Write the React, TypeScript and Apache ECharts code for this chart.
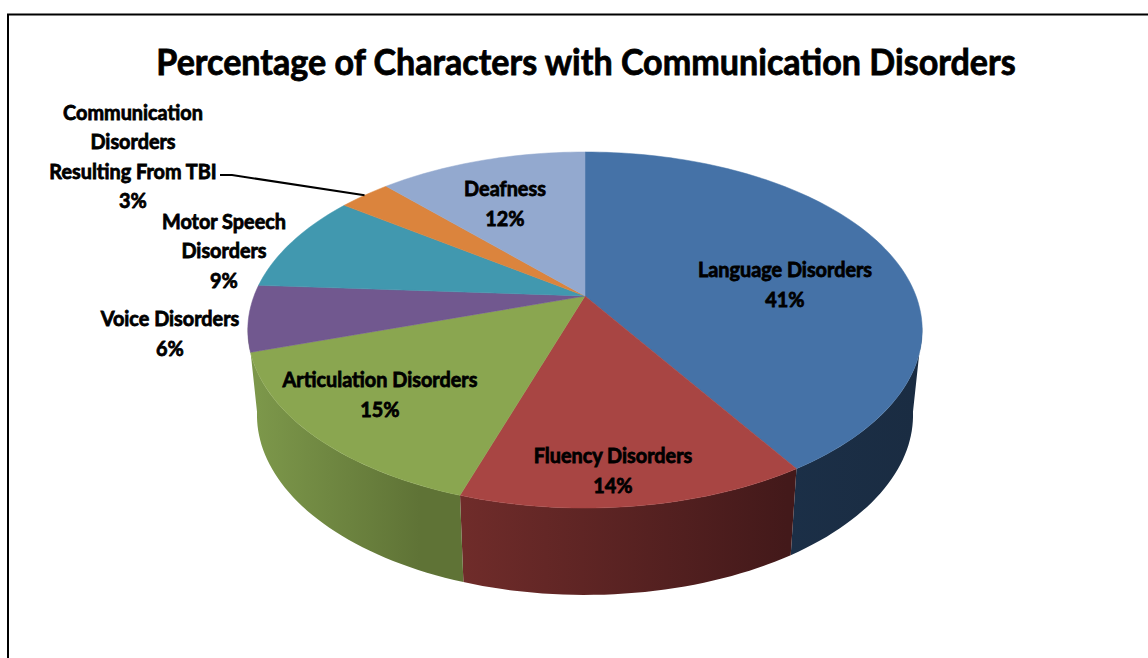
import React, { useEffect, useRef } from "react";
import * as echarts from "echarts";

const chartTitle = "Percentage of Characters with Communication Disorders";
const categories = [
  "Language Disorders",
  "Fluency Disorders",
  "Articulation Disorders",
  "Voice Disorders",
  "Motor Speech\nDisorders",
  "Communication\nDisorders\nResulting From TBI",
  "Deafness",
];
const percentages = [41, 14, 15, 6, 9, 3, 12];
const faceColors = ["#4572A7", "#A84543", "#8AA650", "#71588F", "#4198AF", "#DB843D", "#93A9CF"];
// Side-wall shading of the three slices that face the viewer: colour and x range.
const wallColors = [
  ["#1B2F47", "#1A2C42"],
  ["#722D2B", "#43191A"],
  ["#7C974A", "#5F7336"],
];
const wallShadeX = [
  [787, 915],
  [443, 787],
  [258, 420],
];
// Label centres, in pixels, listed in slice order.
const labelCentreX = [785, 613, 380, 170, 224, 133, 505];
const labelCentreY = [284, 470, 394, 333, 250, 156, 203];

const FONT = "Lato, Carlito, sans-serif";
const X0 = 585;
// Where the pie's outline passes from its top face down to its base.
const SILHOUETTE_RIGHT = 100;
const SILHOUETTE_LEFT = 260;

// Perspective projection of the pie's circular faces onto the page.
const SKEW = 0.191;
const topFace = { spread: 331, slope: -115, mid: 296 };
const baseFace = { spread: 322, slope: -100.7, mid: 380.6 };
function project(face: typeof topFace, deg: number): number[] {
  const t = (deg * Math.PI) / 180;
  const u = Math.sin(t);
  const v = Math.cos(t);
  const w = 1 + SKEW * v;
  return [X0 + (face.spread * u) / w, (face.slope * v + face.mid) / w];
}

const rows: number[][] = [];
{
  let run = 0;
  percentages.forEach((p, i) => {
    rows.push([(run / 100) * 360, ((run + p) / 100) * 360, i, p]);
    run += p;
  });
}

function arcPoints(face: typeof topFace, a: number, b: number): number[][] {
  const steps = Math.max(2, Math.ceil((b - a) / 1.5));
  const pts: number[][] = [];
  for (let i = 0; i <= steps; i++) pts.push(project(face, a + ((b - a) * i) / steps));
  return pts;
}

function renderWall(_: any, api: any) {
  const i = api.value(2);
  const a = Math.max(api.value(0), SILHOUETTE_RIGHT);
  // The last front wall runs on to the outline, under the next slice's edge.
  const b = i === wallColors.length - 1 ? SILHOUETTE_LEFT : api.value(1);
  const grad = new echarts.graphic.LinearGradient(
    wallShadeX[i][0],
    0,
    wallShadeX[i][1],
    0,
    [
      { offset: 0, color: wallColors[i][0] },
      { offset: 1, color: wallColors[i][1] },
    ],
    true,
  );
  return {
    type: "polygon",
    shape: { points: [...arcPoints(topFace, a, b), ...arcPoints(baseFace, a, b).reverse()] },
    style: { fill: grad },
  };
}

function renderFace(_: any, api: any) {
  const i = api.value(2);
  return {
    type: "polygon",
    shape: { points: [[X0, topFace.mid], ...arcPoints(topFace, api.value(0), api.value(1))] },
    style: { fill: faceColors[i], stroke: faceColors[i], lineWidth: 0.5 },
  };
}

function renderLabel(_: any, api: any) {
  const i = api.value(2);
  return {
    type: "text",
    x: labelCentreX[i],
    y: labelCentreY[i],
    scaleX: 0.945,
    style: {
      text: `${categories[i]}\n${api.value(3)}%`,
      x: 0,
      y: 0,
      fill: "#000",
      stroke: "#000",
      lineWidth: 0.8,
      align: "center",
      verticalAlign: "middle",
      font: `bold 21px ${FONT}`,
      lineHeight: 29.5,
    },
  };
}

// Leader from the TBI label to the middle of its slice.
function renderLeader(_: any, api: any) {
  const tip = project(topFace, (api.value(0) + api.value(1)) / 2);
  return {
    type: "polyline",
    shape: { points: [[220, 175], [232, 175], tip] },
    style: { stroke: "#000", lineWidth: 2, fill: "none" },
  };
}

export default function App() {
  const ref = useRef<HTMLDivElement>(null);
  useEffect(() => {
    const chart = echarts.init(ref.current!, undefined, { renderer: "svg" });
    chart.setOption({
      animation: false,
      backgroundColor: "#fff",
      graphic: [
        {
          type: "polyline",
          shape: { points: [[8, 658], [8, 14.5], [1148, 14.5]] },
          style: { stroke: "#000", lineWidth: 2, fill: "none" },
        },
        {
          type: "text",
          x: 586,
          y: 61,
          scaleX: 0.947,
          style: {
            text: chartTitle,
            x: 0,
            y: 0,
            fill: "#000",
            stroke: "#000",
            lineWidth: 0.8,
            align: "center",
            verticalAlign: "middle",
            font: `bold 36px ${FONT}`,
          },
        },
      ],
      series: [
        { type: "custom", coordinateSystem: "none", z: 1, silent: true, data: rows.slice(0, wallColors.length), renderItem: renderWall },
        { type: "custom", coordinateSystem: "none", z: 2, silent: true, data: rows, renderItem: renderFace },
        { type: "custom", coordinateSystem: "none", z: 3, silent: true, data: [rows[5]], renderItem: renderLeader },
        { type: "custom", coordinateSystem: "none", z: 4, silent: true, data: rows, renderItem: renderLabel },
      ],
    });
    return () => chart.dispose();
  }, []);
  return <div ref={ref} style={{ position: "fixed", left: 0, top: 0, width: 1148, height: 658 }} />;
}
